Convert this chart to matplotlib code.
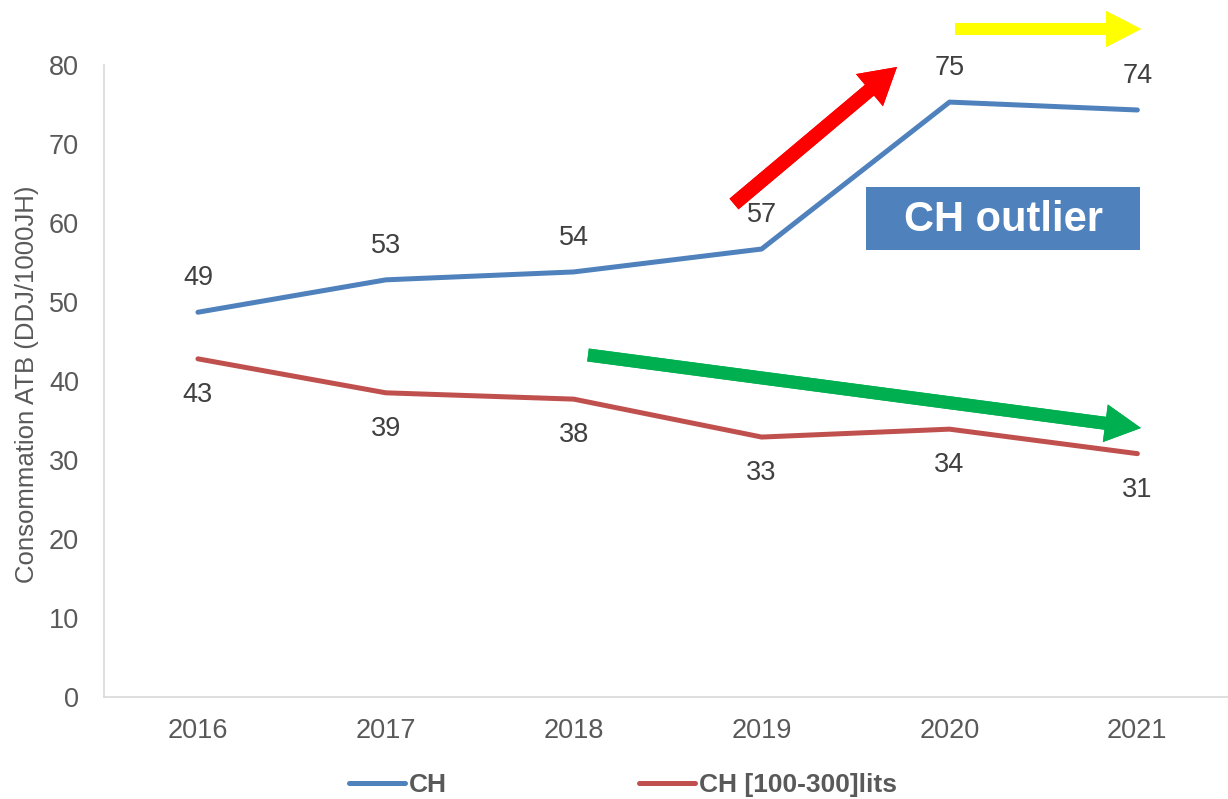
import matplotlib.pyplot as plt
from matplotlib.patches import Rectangle

plt.rcParams['font.family'] = ['Liberation Sans', 'DejaVu Sans']

years = ['2016', '2017', '2018', '2019', '2020', '2021']
ch = [48.7, 52.8, 53.8, 56.7, 75.3, 74.3]
ch_100_300 = [42.8, 38.5, 37.7, 32.9, 33.9, 30.8]
ch_labels = [49, 53, 54, 57, 75, 74]
ch_100_300_labels = [43, 39, 38, 33, 34, 31]

blue = '#4F81BD'
red = '#C0504D'
txt = '#404040'
tick_col = '#595959'
H = 799

fig = plt.figure(figsize=(12.28, 7.99), dpi=100)
ax = fig.add_axes([0.0847, 0.1277, 0.918, 0.791])

x = list(range(len(years)))
ax.plot(x, ch, color=blue, lw=3.6, solid_capstyle='round', label='CH')
ax.plot(x, ch_100_300, color=red, lw=3.6, solid_capstyle='round', label='CH [100-300]lits')

for i in x:
    ax.annotate(str(ch_labels[i]), (i, ch[i]), xytext=(0, 24.5), textcoords='offset points',
                ha='center', va='center', fontsize=19.5, color=txt)
    ax.annotate(str(ch_100_300_labels[i]), (i, ch_100_300[i]), xytext=(0, -26), textcoords='offset points',
                ha='center', va='center', fontsize=19.5, color=txt)

ax.set_xlim(-0.5, 5.5)
ax.set_ylim(0, 80)
ax.set_xticks(x)
ax.set_xticklabels(years)
ax.set_yticks(range(0, 81, 10))
ax.tick_params(length=0, labelsize=19.5, colors=tick_col)
ax.tick_params(axis='x', pad=15)
ax.tick_params(axis='y', pad=18)
for s in ['top', 'right']:
    ax.spines[s].set_visible(False)
for s in ['left', 'bottom']:
    ax.spines[s].set_color('#D9D9D9')
    ax.spines[s].set_linewidth(1.2)
ax.set_ylabel('Consommation ATB (DDJ/1000JH)', fontsize=18.5, color=tick_col)
ax.yaxis.set_label_coords(-0.058, 0.495)


def arrow(x0, y0, x1, y1, color, shaft, head_w, head_l):
    # coordinates in pixels from the top-left corner, sizes in pixels
    k = 0.72
    style = 'simple,tail_width=%g,head_width=%g,head_length=%g' % (shaft * k, head_w * k, head_l * k)
    fig.add_artist(plt.annotate('', xy=(x1, H - y1), xytext=(x0, H - y0),
                                xycoords='figure pixels', textcoords='figure pixels',
                                arrowprops=dict(arrowstyle=style, mutation_scale=1, color=color,
                                                lw=0, shrinkA=0, shrinkB=0)))


arrow(734, 204, 897, 67, '#FF0000', 14, 42, 36)
arrow(955, 29, 1141, 29, '#FFFF00', 12, 36, 35)
arrow(588, 355, 1141, 428, '#00B050', 13, 38, 36)

fig.add_artist(Rectangle((866 / 1228, 1 - 250 / H), 274 / 1228, 63 / H,
                         transform=fig.transFigure, fc=blue, ec='none'))
fig.text(1003 / 1228, 1 - 220 / H, 'CH outlier', ha='center', va='center', fontsize=30,
         fontweight='bold', color='white')

leg = fig.legend(loc='center', bbox_to_anchor=(623 / 1228, 1 - 785 / H), ncol=2, frameon=False,
                 fontsize=19, handlelength=2.1, handletextpad=0.15, columnspacing=7.3)
for t in leg.get_texts():
    t.set_fontweight('bold')
    t.set_color(tick_col)

fig.savefig('out.png', dpi=100)
